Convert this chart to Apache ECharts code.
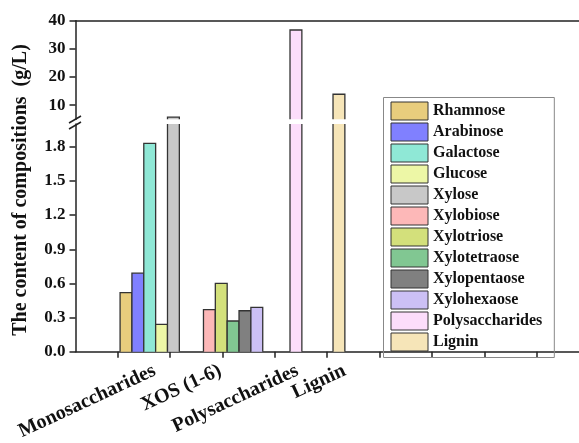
<!DOCTYPE html>
<html>
<head>
<meta charset="utf-8">
<script src="https://cdn.jsdelivr.net/npm/echarts@6.0.0/dist/echarts.min.js"></script>
<style>
  html, body { margin: 0; padding: 0; background: #fff; }
  #chart { width: 579px; height: 443px; }
</style>
</head>
<body>
<div id="chart"></div>
<script>
// data
const groups = ['Monosaccharides', 'XOS (1-6)', 'Polysaccharides', 'Lignin'];
const components = ['Rhamnose', 'Arabinose', 'Galactose', 'Glucose', 'Xylose',
  'Xylobiose', 'Xylotriose', 'Xylotetraose', 'Xylopentaose', 'Xylohexaose',
  'Polysaccharides', 'Lignin'];
const componentGroup = [0, 0, 0, 0, 0, 1, 1, 1, 1, 1, 2, 3];
const contents = [0.52, 0.69, 1.83, 0.24, 5.8, 0.37, 0.60, 0.27, 0.36, 0.39, 36.7, 13.9];
const lowerTicks = [0, 0.3, 0.6, 0.9, 1.2, 1.5, 1.8];
const lowerMinor = [0.15, 0.45, 0.75, 1.05, 1.35, 1.65, 1.95];
const upperTicks = [10, 20, 30, 40];
const upperMinor = [15, 25, 35];
const xTicks = [0, 1, 2, 3, 4, 5, 6, 7, 8];

const colors = ['#E8CD7D', '#8080FF', '#8FE8D6', '#EDF7A6', '#C8C8C8', '#FDB8B8',
  '#D3E07B', '#81C792', '#808080', '#CCC0F5', '#FCDDFB', '#F6E5B8'];

// layout
const FONT = '"Liberation Serif", "Times New Roman", serif';
const LOWER = [0, 2];     // broken axis, lower piece
const UPPER = [5, 40];    // upper piece
const groupStart = [0.05, 1.64, 3.29, 4.11];
const barW = 0.226;
const labelAt = [0.71, 1.96, 3.43, 4.33];
const AX = '#222';

const chart = echarts.init(document.getElementById('chart'), null, { renderer: 'canvas' });

function barPiece(range, color) {
  return function (params, api) {
    const xc = api.value(0), v = api.value(1);
    const cut = v > range[1];
    const p1 = api.coord([xc - barW / 2, range[0]]);
    const p2 = api.coord([xc + barW / 2, Math.min(v, range[1])]);
    const x0 = p1[0], x1 = p2[0], yb = p1[1], yt = p2[1];
    const stroke = { stroke: '#333', lineWidth: 1.3, fill: null };
    const kids = [{ type: 'rect', shape: { x: x0, y: yt, width: x1 - x0, height: yb - yt }, style: { fill: color } }];
    if (cut) {
      kids.push({ type: 'polyline', shape: { points: [[x0, yb], [x0, yt]] }, style: stroke });
      kids.push({ type: 'polyline', shape: { points: [[x1, yb], [x1, yt]] }, style: stroke });
    } else {
      kids.push({ type: 'polyline', shape: { points: [[x0, yb], [x0, yt], [x1, yt], [x1, yb]] }, style: stroke });
    }
    return { type: 'group', children: kids };
  };
}

const series = [];
const seen = [0, 0, 0, 0];
components.forEach((name, i) => {
  const g = componentGroup[i];
  const x = groupStart[g] + (seen[g] + 0.5) * barW;
  seen[g]++;
  const v = contents[i];
  series.push({
    type: 'custom', name, xAxisIndex: 0, yAxisIndex: 0,
    data: [[x, v]], itemStyle: { color: colors[i] },
    renderItem: barPiece(LOWER, colors[i])
  });
  if (v > UPPER[0]) {
    series.push({
      type: 'custom', name, xAxisIndex: 1, yAxisIndex: 2,
      data: [[x, v]], itemStyle: { color: colors[i] },
      renderItem: barPiece(UPPER, colors[i])
    });
  }
});

const tickFont = { fontFamily: FONT, fontWeight: 'bold', fontSize: 17, color: '#111' };

const option = {
  animation: false,
  backgroundColor: '#fff',
  grid: [
    { left: 75.5, right: 0, top: 124, bottom: 83 },
    { left: 75.5, right: 0, top: 20.7, height: 98.6 }
  ],
  xAxis: [
    {
      gridIndex: 0, type: 'value', min: -0.8, max: 8.8,
      axisLine: { onZero: false, lineStyle: { color: AX, width: 1.5 } },
      axisTick: { customValues: xTicks, length: 6, lineStyle: { color: AX, width: 1.5 } },
      axisLabel: {
        customValues: labelAt, rotate: 25, margin: 18,
        fontFamily: FONT, fontWeight: 'bold', fontSize: 20, color: '#111',
        formatter: v => {
          let k = 0;
          labelAt.forEach((p, j) => { if (Math.abs(p - v) < Math.abs(labelAt[k] - v)) k = j; });
          return groups[k];
        }
      },
      splitLine: { show: false }
    },
    {
      gridIndex: 1, type: 'value', min: -0.8, max: 8.8, position: 'top',
      axisLine: { onZero: false, lineStyle: { color: AX, width: 1.5 } },
      axisTick: { show: false }, axisLabel: { show: false }, splitLine: { show: false }
    }
  ],
  yAxis: [
    {
      gridIndex: 0, type: 'value', min: LOWER[0], max: LOWER[1],
      axisLine: { show: true, onZero: false, lineStyle: { color: AX, width: 1.5 } },
      axisTick: { show: true, customValues: lowerTicks, length: 6, lineStyle: { color: AX, width: 1.5 } },
      axisLabel: Object.assign({ customValues: lowerTicks, margin: 10, formatter: v => v.toFixed(1) }, tickFont),
      splitLine: { show: false }
    },
    {
      gridIndex: 0, type: 'value', min: LOWER[0], max: LOWER[1],
      axisLine: { show: false, onZero: false },
      axisTick: { show: true, customValues: lowerMinor, length: 3, lineStyle: { color: AX, width: 1.5 } },
      axisLabel: { show: false }, splitLine: { show: false }
    },
    {
      gridIndex: 1, type: 'value', min: UPPER[0], max: UPPER[1],
      axisLine: { show: true, onZero: false, lineStyle: { color: AX, width: 1.5 } },
      axisTick: { show: true, customValues: upperTicks, length: 6, lineStyle: { color: AX, width: 1.5 } },
      axisLabel: Object.assign({ customValues: upperTicks, margin: 10 }, tickFont),
      splitLine: { show: false }
    },
    {
      gridIndex: 1, type: 'value', min: UPPER[0], max: UPPER[1],
      axisLine: { show: false, onZero: false },
      axisTick: { show: true, customValues: upperMinor, length: 3, lineStyle: { color: AX, width: 1.5 } },
      axisLabel: { show: false }, splitLine: { show: false }
    }
  ],
  legend: {
    orient: 'vertical', left: 383.5, top: 97.5,
    selectedMode: false,
    padding: [4, 12, 6, 7],
    borderColor: '#888', borderWidth: 1,
    itemWidth: 37, itemHeight: 18, itemGap: 2,
    textStyle: { fontFamily: FONT, fontWeight: 'bold', fontSize: 16, color: '#111' },
    data: components.map((n, i) => ({
      name: n, icon: 'rect',
      itemStyle: { color: colors[i], borderColor: '#333', borderWidth: 1 }
    }))
  },
  graphic: [
    {
      type: 'text', x: 21, y: 190, rotation: Math.PI / 2,
      style: {
        text: 'The content of compositions  (g/L)',
        font: 'bold 20px ' + FONT, fill: '#111',
        textAlign: 'center', textVerticalAlign: 'middle'
      }
    },
    { type: 'line', shape: { x1: 69, y1: 123, x2: 81, y2: 116 }, style: { stroke: AX, lineWidth: 1.5 } },
    { type: 'line', shape: { x1: 69, y1: 129, x2: 81, y2: 122 }, style: { stroke: AX, lineWidth: 1.5 } }
  ],
  series
};

chart.setOption(option);
</script>
</body>
</html>
